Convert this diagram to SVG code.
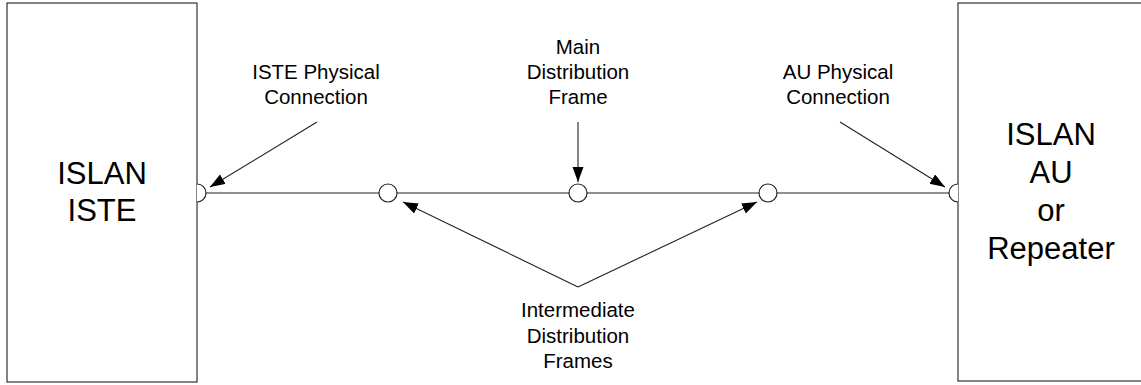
<svg xmlns="http://www.w3.org/2000/svg" width="1141" height="385" viewBox="0 0 1141 385">
<style>
.box{fill:#fff;stroke:#333;stroke-width:1.2}
.big{font-family:"Liberation Sans",Arial,sans-serif;font-size:31px;fill:#000;text-anchor:middle}
.lbl{font-family:"Liberation Sans",Arial,sans-serif;font-size:20.5px;fill:#000;text-anchor:middle}
.ln{stroke:#222;stroke-width:1.2;fill:none}
.ar{stroke:#222;stroke-width:1.1;fill:none;marker-end:url(#ah)}
.jc{fill:#fff;stroke:#222;stroke-width:1.2}
</style>
<defs>
<marker id="ah" markerUnits="userSpaceOnUse" markerWidth="18" markerHeight="14" refX="15" refY="5.5" orient="auto">
<path d="M0,0 L15,5.5 L0,11 z" fill="#000"/>
</marker>
</defs>
<g id="iste">
<rect class="box" x="7" y="3" width="190" height="379"/>
<text class="big" x="102" y="184">ISLAN</text>
<text class="big" x="102" y="221">ISTE</text>
</g>
<g id="au">
<rect class="box" x="958" y="3" width="200" height="378"/>
<text class="big" x="1051" y="145">ISLAN</text>
<text class="big" x="1051" y="183">AU</text>
<text class="big" x="1051" y="221">or</text>
<text class="big" x="1051" y="259">Repeater</text>
</g>
<g id="connectors">
<line class="ln" x1="197" y1="193" x2="958" y2="193"/>
<path class="jc" d="M197,184 A9,9 0 0 1 197,202"/>
<path class="jc" d="M958,184 A9,9 0 0 0 958,202"/>
<line class="ar" x1="317" y1="122" x2="210" y2="187"/>
<line class="ar" x1="578" y1="122" x2="578" y2="182"/>
<line class="ar" x1="840" y1="122" x2="945" y2="187"/>
<line class="ar" x1="578" y1="287" x2="403" y2="202"/>
<line class="ar" x1="578" y1="287" x2="757" y2="202"/>
</g>
<g id="idf1"><circle class="jc" cx="388" cy="193" r="9"/></g>
<g id="mdf"><circle class="jc" cx="578" cy="193" r="9"/></g>
<g id="idf2"><circle class="jc" cx="768" cy="193" r="9"/></g>
<g id="lbl-iste">
<text class="lbl" x="316" y="79">ISTE Physical</text>
<text class="lbl" x="316" y="104">Connection</text>
</g>
<g id="lbl-mdf">
<text class="lbl" x="578" y="54">Main</text>
<text class="lbl" x="578" y="79">Distribution</text>
<text class="lbl" x="578" y="104">Frame</text>
</g>
<g id="lbl-au">
<text class="lbl" x="838" y="79">AU Physical</text>
<text class="lbl" x="838" y="104">Connection</text>
</g>
<g id="lbl-idf">
<text class="lbl" x="578" y="317">Intermediate</text>
<text class="lbl" x="578" y="342.5">Distribution</text>
<text class="lbl" x="578" y="368">Frames</text>
</g>
</svg>
